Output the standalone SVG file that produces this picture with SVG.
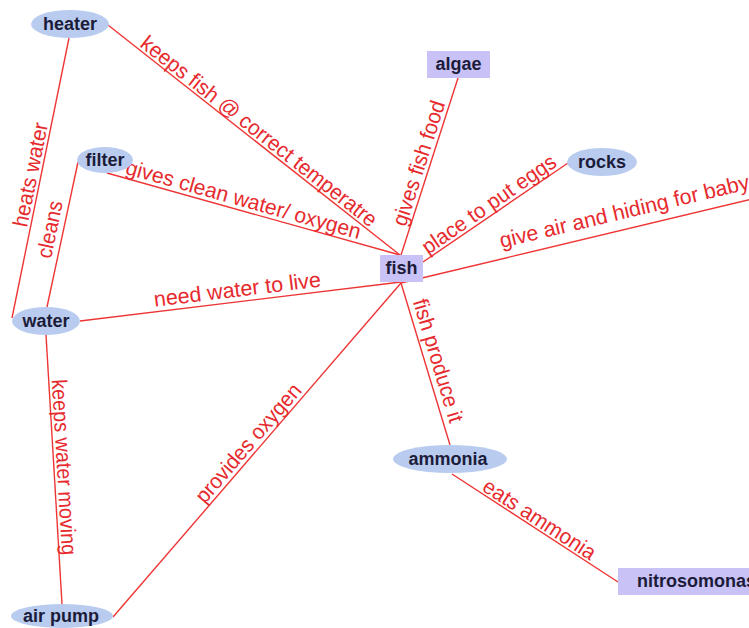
<svg xmlns="http://www.w3.org/2000/svg" width="749" height="628" viewBox="0 0 749 628">
<style>
.ln{stroke:#ee3535;stroke-width:1.4;fill:none}
.lb{font-family:"Liberation Sans",Arial,sans-serif;font-size:21.5px;fill:#e62a2e}
.el{fill:#b9ccf0}
.rc{fill:#c9c2f6}
.nt{font-family:"Liberation Sans",Arial,sans-serif;font-size:18px;font-weight:bold;fill:#1c1c3a;text-anchor:middle}
</style>
<rect width="749" height="628" fill="#ffffff"/>
<g id="connectors">
<line class="ln" x1="108" y1="25" x2="400" y2="255"/>
<line class="ln" x1="69" y1="38" x2="12" y2="318"/>
<line class="ln" x1="78" y1="162" x2="47" y2="307"/>
<line class="ln" x1="107" y1="173" x2="400" y2="255"/>
<line class="ln" x1="458" y1="78" x2="401" y2="255"/>
<line class="ln" x1="568" y1="163" x2="423" y2="262"/>
<line class="ln" x1="401" y1="283" x2="752" y2="199"/>
<line class="ln" x1="80" y1="321" x2="401" y2="282"/>
<line class="ln" x1="46" y1="335" x2="62" y2="604"/>
<line class="ln" x1="113" y1="617" x2="401" y2="283"/>
<line class="ln" x1="401" y1="283" x2="450" y2="445"/>
<line class="ln" x1="452" y1="474" x2="618" y2="582"/>
</g>
<g id="labels">
<text class="lb" transform="translate(139.1,46) rotate(38.2)" textLength="294" lengthAdjust="spacingAndGlyphs">keeps fish @ correct temperatre</text>
<text class="lb" transform="translate(124.5,173.7) rotate(15.6)" textLength="243" lengthAdjust="spacingAndGlyphs">gives clean water/ oxygen</text>
<text class="lb" transform="translate(405.8,227.2) rotate(-72.2)" textLength="130" lengthAdjust="spacingAndGlyphs">gives fish food</text>
<text class="lb" transform="translate(427.9,255) rotate(-34.6)" textLength="158" lengthAdjust="spacingAndGlyphs">place to put eggs</text>
<text class="lb" transform="translate(501.5,248) rotate(-13.4)" textLength="256" lengthAdjust="spacingAndGlyphs">give air and hiding for baby</text>
<text class="lb" transform="translate(154.8,306.8) rotate(-6.95)" textLength="168" lengthAdjust="spacingAndGlyphs">need water to live</text>
<text class="lb" transform="translate(27,228.1) rotate(-78.5)" textLength="106" lengthAdjust="spacingAndGlyphs">heats water</text>
<text class="lb" transform="translate(50.9,259.2) rotate(-78.1)" textLength="58" lengthAdjust="spacingAndGlyphs">cleans</text>
<text class="lb" transform="translate(51.7,379.7) rotate(86.6)" textLength="176" lengthAdjust="spacingAndGlyphs">keeps water moving</text>
<text class="lb" transform="translate(204.7,504.6) rotate(-49.2)" textLength="150" lengthAdjust="spacingAndGlyphs">provides oxygen</text>
<text class="lb" transform="translate(412.8,301.4) rotate(73.2)" textLength="128" lengthAdjust="spacingAndGlyphs">fish produce it</text>
<text class="lb" transform="translate(481.1,489.9) rotate(33.05)" textLength="130" lengthAdjust="spacingAndGlyphs">eats ammonia</text>
</g>
<g id="heater"><ellipse class="el" cx="70" cy="24" rx="39" ry="14"/><text class="nt" x="70" y="30">heater</text></g>
<g id="filter"><ellipse class="el" cx="105" cy="160" rx="28" ry="13"/><text class="nt" x="105" y="166">filter</text></g>
<g id="water"><ellipse class="el" cx="46" cy="321" rx="34" ry="14"/><text class="nt" x="46" y="327">water</text></g>
<g id="air-pump"><ellipse class="el" cx="62" cy="616" rx="51" ry="12"/><text class="nt" x="61" y="622">air pump</text></g>
<g id="rocks"><ellipse class="el" cx="602" cy="162" rx="35" ry="14"/><text class="nt" x="602" y="168">rocks</text></g>
<g id="ammonia"><ellipse class="el" cx="450" cy="459" rx="57" ry="14"/><text class="nt" x="448" y="465">ammonia</text></g>
<g id="algae"><rect class="rc" x="427" y="51" width="63" height="27"/><text class="nt" x="458.5" y="70">algae</text></g>
<g id="fish"><rect class="rc" x="380" y="255" width="43" height="27"/><text class="nt" x="401.5" y="274">fish</text></g>
<g id="nitrosomonas"><rect class="rc" x="618" y="568" width="145" height="27"/><text class="nt" x="637" y="587" style="text-anchor:start">nitrosomonas</text></g>
</svg>
